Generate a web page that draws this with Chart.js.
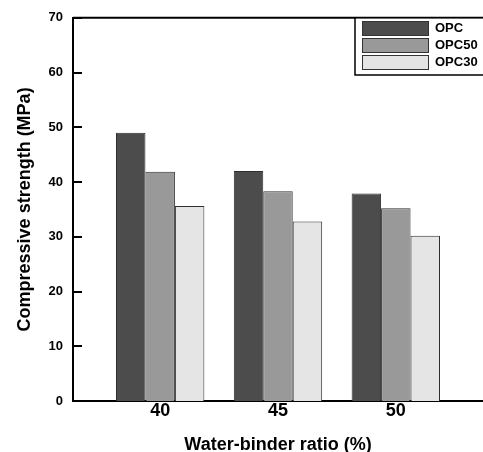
<!DOCTYPE html>
<html>
<head>
<meta charset="utf-8">
<script src="https://cdn.jsdelivr.net/npm/chart.js@4.4.0/dist/chart.umd.min.js"></script>
<style>
  html, body { margin: 0; padding: 0; background: #fff; overflow: hidden; }
  #caja { width: 483px; height: 452px; }
</style>
</head>
<body>
<div id="caja"><canvas id="grafica"></canvas></div>
<script>
const $grafica = document.querySelector("#grafica");

// relación agua/ligante (%) y resistencias (MPa)
const ratios = [40, 45, 50];
const opc = [49.0, 42.0, 37.9];
const opc50 = [41.9, 38.3, 35.2];
const opc30 = [35.6, 32.8, 30.2];

const nombres = ["OPC", "OPC50", "OPC30"];
const rellenos = ["#4c4c4c", "#999999", "#e5e5e5"];

const aPuntos = (valores) => valores.map((v, i) => ({ x: ratios[i], y: v }));

Chart.defaults.font.family = "'Liberation Sans', Arial, sans-serif";
Chart.defaults.font.weight = "bold";
Chart.defaults.color = "#000";

// marcas hacia dentro en el eje Y, línea superior y leyenda recuadrada
const decoracion = {
    id: "decoracion",
    afterDatasetsDraw(chart) {
        const { ctx, chartArea } = chart;
        const y = chart.scales.y;
        ctx.save();
        ctx.strokeStyle = "#000";
        ctx.lineWidth = 2;
        y.ticks.forEach(t => {
            const py = Math.round(y.getPixelForValue(t.value));
            ctx.beginPath();
            ctx.moveTo(chartArea.left, py);
            ctx.lineTo(chartArea.left + 9, py);
            ctx.stroke();
        });
        ctx.beginPath();
        ctx.moveTo(chartArea.left, chartArea.top);
        ctx.lineTo(chartArea.right, chartArea.top);
        ctx.stroke();

        // leyenda
        const izq = 355, arriba = chartArea.top, abajo = 75;
        ctx.fillStyle = "#fff";
        ctx.fillRect(izq, arriba + 1, chartArea.right - izq, abajo - arriba - 1);
        ctx.lineWidth = 1.5;
        ctx.beginPath();
        ctx.moveTo(izq, arriba);
        ctx.lineTo(izq, abajo);
        ctx.lineTo(chartArea.right, abajo);
        ctx.stroke();

        ctx.font = "bold 13px 'Liberation Sans', Arial, sans-serif";
        ctx.textBaseline = "middle";
        ctx.textAlign = "left";
        chart.data.datasets.forEach((ds, i) => {
            const top = 21 + i * 17;
            ctx.fillStyle = ds.backgroundColor;
            ctx.fillRect(362, top, 66, 14);
            ctx.strokeStyle = "#333";
            ctx.lineWidth = 1;
            ctx.strokeRect(362.5, top + 0.5, 66, 14);
            ctx.fillStyle = "#000";
            ctx.fillText(ds.label, 435, top + 7);
        });
        ctx.restore();
    }
};

const series = [opc, opc50, opc30].map((valores, i) => ({
    label: nombres[i],
    data: aPuntos(valores),
    backgroundColor: rellenos[i],
    borderColor: "#2e2e2e",
    borderWidth: 1,
    categoryPercentage: 0.75,
    barPercentage: 1.0,
}));

new Chart($grafica, {
    type: "bar",
    data: { datasets: series },
    options: {
        responsive: true,
        maintainAspectRatio: false,
        animation: false,
        layout: { padding: { top: 16, left: 0, right: 0, bottom: 0 } },
        plugins: { legend: { display: false }, tooltip: { enabled: false } },
        scales: {
            x: {
                type: "linear",
                offset: false,
                min: 36.3,
                max: 53.7,
                afterBuildTicks: (s) => { s.ticks = ratios.map(v => ({ value: v })); },
                afterFit: (s) => { s.height = 51; },
                grid: { display: false, drawTicks: false, offset: false },
                border: { display: true, color: "#000", width: 2 },
                ticks: { font: { size: 18, weight: "bold" }, padding: -1, color: "#000" },
                title: {
                    display: true,
                    text: "Water-binder ratio (%)",
                    font: { size: 18, weight: "bold", lineHeight: 1 },
                    padding: { top: 0, bottom: -2 },
                    color: "#000"
                }
            },
            y: {
                min: 0,
                max: 70,
                afterFit: (s) => { s.width = 73; },
                grid: { display: false, drawTicks: false },
                border: { display: true, color: "#000", width: 2 },
                ticks: { stepSize: 10, font: { size: 13, weight: "bold" }, padding: 10, color: "#000" },
                title: {
                    display: true,
                    text: "Compressive strength (MPa)",
                    font: { size: 18, weight: "bold" },
                    padding: { top: 14, bottom: 0 },
                    color: "#000"
                }
            }
        }
    },
    plugins: [decoracion]
});
</script>
</body>
</html>
